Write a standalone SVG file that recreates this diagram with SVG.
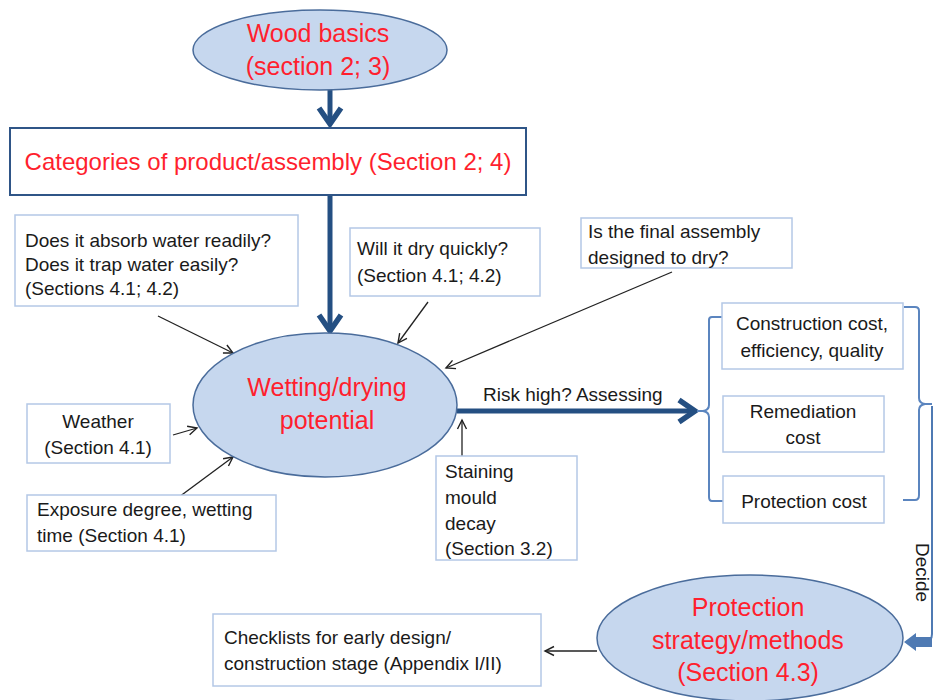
<svg xmlns="http://www.w3.org/2000/svg" width="936" height="700" viewBox="0 0 936 700">
<defs>
<style>
.ell{fill:#c6d7ee;stroke:#4a6c9b;stroke-width:1.5}
.box{fill:#fff;stroke:#b4c8e6;stroke-width:1.5}
.main{fill:#fff;stroke:#2f5587;stroke-width:2}
.red{font-family:"Liberation Sans",Arial,sans-serif;fill:#ff1f2e;font-size:25px}
.blk{font-family:"Liberation Sans",Arial,sans-serif;fill:#1a1a1a;font-size:19px}
.thin{stroke:#222;stroke-width:1.3;fill:none}
.thick{stroke:#244f82;stroke-width:5;fill:none}
.brk{stroke:#5b85bf;stroke-width:2;fill:none}
</style>
<marker id="ah" markerUnits="userSpaceOnUse" markerWidth="14" markerHeight="14" refX="10" refY="6" orient="auto">
<path d="M1,1.5 L10,6 L1,10.5" fill="none" stroke="#222" stroke-width="1.4"/>
</marker>
<marker id="ahb" markerUnits="userSpaceOnUse" markerWidth="30" markerHeight="30" refX="20" refY="14" orient="auto">
<path d="M4,3 L20,14 L4,25" fill="none" stroke="#244f82" stroke-width="5.5" stroke-linejoin="miter"/>
</marker>
</defs>

<g id="connectors">
<line class="thick" x1="330" y1="90" x2="330" y2="124" marker-end="url(#ahb)"/>
<line class="thick" x1="330" y1="196" x2="330" y2="331" marker-end="url(#ahb)"/>
<line class="thin" x1="158" y1="316" x2="233" y2="353" marker-end="url(#ah)"/>
<line class="thin" x1="428" y1="302" x2="398" y2="343" marker-end="url(#ah)"/>
<line class="thin" x1="672" y1="272" x2="446" y2="368" marker-end="url(#ah)"/>
<line class="thin" x1="173" y1="435" x2="197" y2="428" marker-end="url(#ah)"/>
<line class="thin" x1="152" y1="517" x2="233" y2="457" marker-end="url(#ah)"/>
<line class="thin" x1="462" y1="456" x2="462" y2="420" marker-end="url(#ah)"/>
<line class="thick" x1="457" y1="411" x2="695" y2="411" marker-end="url(#ahb)"/>
<text class="blk" x="483" y="401">Risk high? Assessing</text>
<path class="brk" d="M724,317 L712,317 Q709,317 709,320 L709,405 Q709,410 703,411 L697,411 M703,411 Q709,412 709,417 L709,497 Q709,501 712,501 L723,501"/>
<path class="brk" d="M904,307 L915,307 Q919,307 919,311 L919,398 Q919,403 925,404 L932,404 M925,404 Q919,405 919,410 L919,495 Q919,500 915,500 L903,500"/>
<path d="M932,406 L932,634 Q932,642 924,642 L918,642" fill="none" stroke="#4f7ab3" stroke-width="2"/>
<polygon points="904,642 916,633 916,637 932,637 932,647 916,647 916,651" fill="#4f7ab3"/>
<text class="blk" transform="translate(916,543) rotate(90)" x="0" y="0">Decide</text>
<line class="thin" x1="597" y1="651" x2="545" y2="651" marker-end="url(#ah)"/>
</g>

<g id="wood-basics">
<ellipse class="ell" cx="320" cy="50" rx="127" ry="40"/>
<text class="red" x="318" y="42" text-anchor="middle">Wood basics</text>
<text class="red" x="318" y="75" text-anchor="middle">(section 2; 3)</text>
</g>

<g id="categories">
<rect class="main" x="10" y="128" width="516" height="67"/>
<text class="red" x="268" y="170" text-anchor="middle" style="font-size:24px">Categories of product/assembly (Section 2; 4)</text>
</g>

<g id="absorb">
<rect class="box" x="15" y="215" width="283" height="91"/>
<text class="blk" x="25" y="247">Does it absorb water readily?</text>
<text class="blk" x="25" y="271">Does it trap water easily?</text>
<text class="blk" x="25" y="295">(Sections 4.1; 4.2)</text>
</g>

<g id="dry-quickly">
<rect class="box" x="350" y="228" width="190" height="68"/>
<text class="blk" x="357" y="255">Will it dry quickly?</text>
<text class="blk" x="357" y="282">(Section 4.1; 4.2)</text>
</g>

<g id="final-assembly">
<rect class="box" x="581" y="218" width="211" height="50"/>
<text class="blk" x="588" y="238">Is the final assembly</text>
<text class="blk" x="588" y="264">designed to dry?</text>
</g>

<g id="wetting">
<ellipse class="ell" cx="325" cy="405" rx="132" ry="72"/>
<text class="red" x="327" y="396" text-anchor="middle">Wetting/drying</text>
<text class="red" x="327" y="429" text-anchor="middle">potential</text>
</g>

<g id="weather">
<rect class="box" x="27" y="404" width="143" height="59"/>
<text class="blk" x="98" y="428" text-anchor="middle">Weather</text>
<text class="blk" x="98" y="454" text-anchor="middle">(Section 4.1)</text>
</g>

<g id="exposure">
<rect class="box" x="27" y="495" width="249" height="56"/>
<text class="blk" x="37" y="516">Exposure degree, wetting</text>
<text class="blk" x="37" y="542">time (Section 4.1)</text>
</g>

<g id="staining">
<rect class="box" x="436" y="456" width="141" height="104"/>
<text class="blk" x="445" y="478">Staining</text>
<text class="blk" x="445" y="504">mould</text>
<text class="blk" x="445" y="530">decay</text>
<text class="blk" x="445" y="555">(Section 3.2)</text>
</g>

<g id="construction-cost">
<rect class="box" x="722" y="303" width="181" height="66"/>
<text class="blk" x="812" y="330" text-anchor="middle">Construction cost,</text>
<text class="blk" x="812" y="357" text-anchor="middle">efficiency, quality</text>
</g>

<g id="remediation-cost">
<rect class="box" x="723" y="396" width="161" height="56"/>
<text class="blk" x="803" y="418" text-anchor="middle">Remediation</text>
<text class="blk" x="803" y="444" text-anchor="middle">cost</text>
</g>

<g id="protection-cost">
<rect class="box" x="723" y="476" width="161" height="47"/>
<text class="blk" x="804" y="508" text-anchor="middle">Protection cost</text>
</g>

<g id="protection-strategy">
<ellipse class="ell" cx="750" cy="638" rx="153" ry="63"/>
<text class="red" x="748" y="616" text-anchor="middle">Protection</text>
<text class="red" x="748" y="649" text-anchor="middle">strategy/methods</text>
<text class="red" x="748" y="681" text-anchor="middle">(Section 4.3)</text>
</g>

<g id="checklists">
<rect class="box" x="213" y="614" width="328" height="72"/>
<text class="blk" x="224" y="644">Checklists for early design/</text>
<text class="blk" x="224" y="670">construction stage (Appendix I/II)</text>
</g>
</svg>
